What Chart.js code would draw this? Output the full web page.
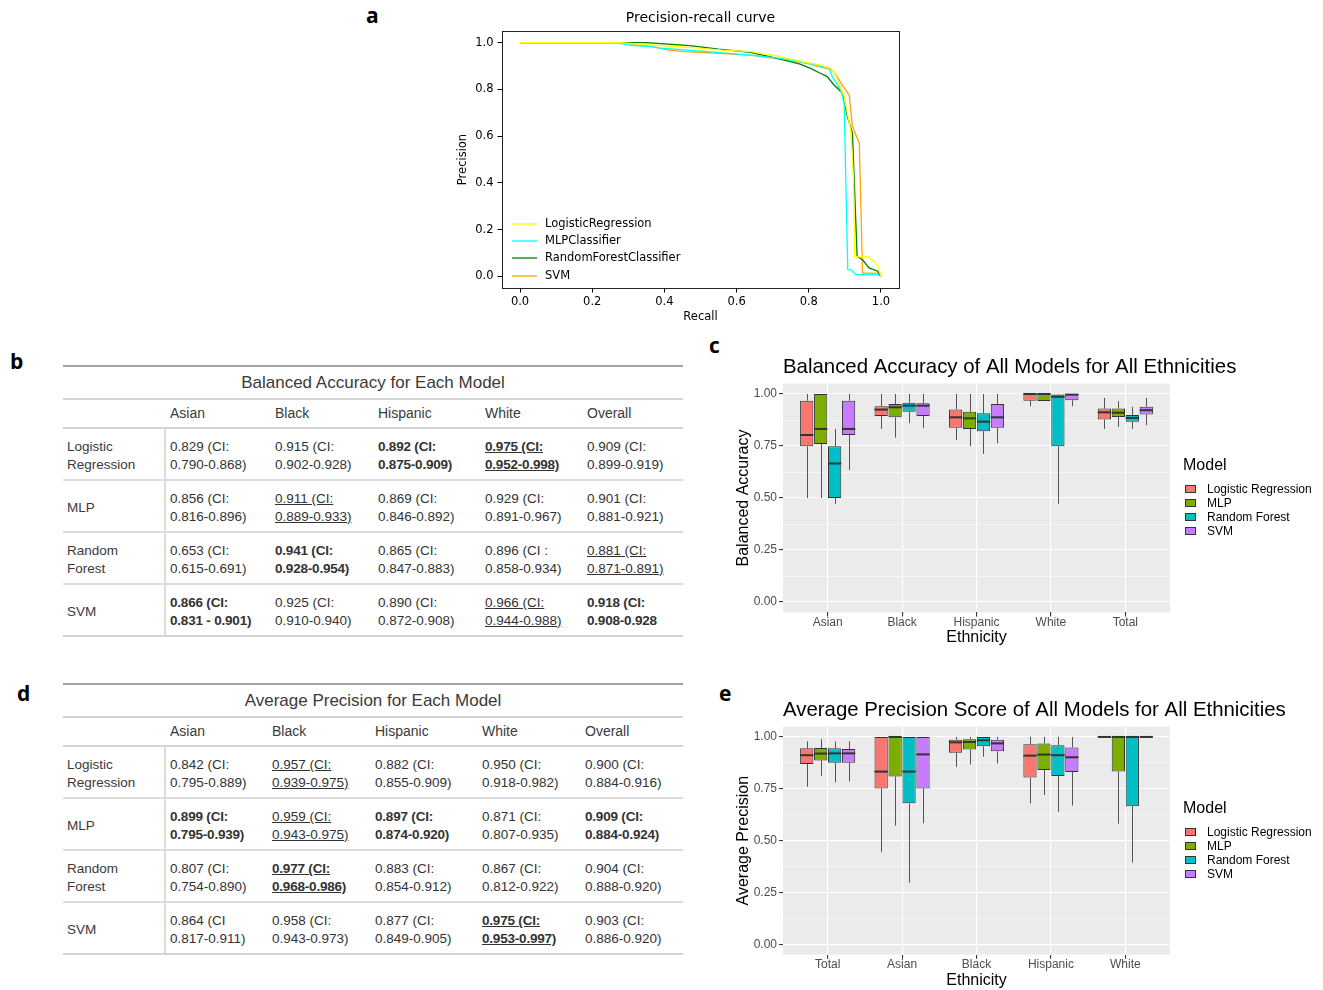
<!DOCTYPE html>
<html><head><meta charset="utf-8">
<script src="https://cdn.jsdelivr.net/npm/chart.js@4.4.1/dist/chart.umd.min.js"></script>
<style>
html,body{margin:0;padding:0;background:#fff;width:1323px;height:990px;overflow:hidden;position:relative;}
.letter{position:absolute;font-family:'Open Sans','Noto Sans',sans-serif;font-weight:700;font-size:21px;line-height:22px;color:#000;}
.wrap{position:absolute;}
.tb{position:absolute;font-family:'Liberation Sans',Arial,sans-serif;color:#333;}
.tb .hl{position:absolute;}
.tb .txt{position:absolute;white-space:nowrap;}
</style></head>
<body>
<div class="letter" style="left:366px;top:4px">a</div>
<div class="letter" style="left:10px;top:350px">b</div>
<div class="letter" style="left:709px;top:334px">c</div>
<div class="letter" style="left:17px;top:682px">d</div>
<div class="letter" style="left:719px;top:682px">e</div>

<div class="wrap" style="left:440px;top:0px;width:470px;height:330px"><canvas id="prChart"></canvas></div>
<div class="wrap" style="left:700px;top:340px;width:623px;height:315px"><canvas id="baChart"></canvas></div>
<div class="wrap" style="left:700px;top:685px;width:623px;height:305px"><canvas id="apChart"></canvas></div>
<div id="tableB"></div>
<div id="tableD"></div>

<script>
// ---------- Panel a: precision-recall curves ----------
const prModels = ['LogisticRegression', 'MLPClassifier', 'RandomForestClassifier', 'SVM'];
const prRecallLR = [0, 0.28, 0.36, 0.45, 0.5, 0.56, 0.64, 0.68, 0.71, 0.78, 0.83, 0.86, 0.87, 0.88, 0.898, 0.916, 0.924, 0.927, 0.94, 0.965, 0.981, 0.993, 1.0];
const prPrecLR   = [1.0, 1.0, 0.99, 0.982, 0.976, 0.968, 0.962, 0.95, 0.945, 0.919, 0.905, 0.89, 0.875, 0.84, 0.769, 0.627, 0.42, 0.085, 0.083, 0.083, 0.064, 0.04, 0.0];
const prRecallMLP = [0, 0.27, 0.3, 0.36, 0.4, 0.5, 0.638, 0.721, 0.805, 0.856, 0.865, 0.888, 0.898, 0.908, 0.918, 0.93, 0.99, 1.0];
const prPrecMLP   = [1.0, 1.0, 0.99, 0.983, 0.975, 0.964, 0.947, 0.933, 0.909, 0.89, 0.855, 0.798, 0.741, 0.029, 0.027, 0.007, 0.007, 0.0];
const prRecallRF = [0, 0.35, 0.4, 0.471, 0.55, 0.638, 0.721, 0.776, 0.805, 0.832, 0.851, 0.87, 0.893, 0.907, 0.921, 0.934, 0.949, 0.967, 0.991, 1.0];
const prPrecRF   = [1.0, 1.0, 0.995, 0.987, 0.972, 0.959, 0.93, 0.908, 0.89, 0.869, 0.855, 0.819, 0.784, 0.684, 0.613, 0.085, 0.071, 0.036, 0.022, 0.0];
const prRecallSVM = [0, 0.3, 0.314, 0.36, 0.407, 0.45, 0.499, 0.6, 0.638, 0.721, 0.8, 0.823, 0.86, 0.87, 0.888, 0.912, 0.921, 0.94, 0.949, 0.993, 1.0];
const prPrecSVM   = [1.0, 1.0, 0.99, 0.985, 0.969, 0.962, 0.959, 0.95, 0.947, 0.93, 0.91, 0.9, 0.886, 0.876, 0.83, 0.776, 0.641, 0.57, 0.014, 0.014, 0.0];
const prTicks = [0, 0.2, 0.4, 0.6, 0.8, 1.0];
const prColors = ['#ffff00', '#00ffff', '#008000', '#ffa500'];

// ---------- Panel c: balanced accuracy boxplots (low, q1, median, q3, high) ----------
const baEthnicities = ['Asian', 'Black', 'Hispanic', 'White', 'Total'];
const baLogistic = [[0.50,0.749,0.803,0.968,1.0],[0.832,0.894,0.925,0.941,1.0],[0.779,0.838,0.888,0.926,1.0],[0.941,0.968,1.0,1.0,1.0],[0.832,0.878,0.912,0.93,0.981]];
const baMLP      = [[0.50,0.76,0.832,1.0,1.0],[0.79,0.888,0.936,0.952,1.0],[0.749,0.832,0.883,0.915,1.0],[0.966,0.966,1.0,1.0,1.0],[0.842,0.89,0.91,0.93,0.965]];
const baForest   = [[0.472,0.50,0.666,0.749,0.832],[0.861,0.915,0.944,0.958,1.0],[0.712,0.821,0.867,0.907,1.0],[0.472,0.749,0.987,0.997,1.0],[0.832,0.866,0.885,0.899,0.938]];
const baSVM      = [[0.635,0.803,0.832,0.968,1.0],[0.837,0.894,0.944,0.955,1.0],[0.763,0.838,0.888,0.952,1.0],[0.941,0.97,0.997,1.0,1.0],[0.85,0.902,0.922,0.939,0.981]];

// ---------- Panel e: average precision boxplots ----------
const apEthnicities = ['Total', 'Asian', 'Black', 'Hispanic', 'White'];
const apLogistic = [[0.76,0.870,0.912,0.945,0.979],[0.444,0.752,0.833,1.0,1.0],[0.855,0.924,0.974,0.987,1.0],[0.68,0.804,0.91,0.965,1.0],[1.0,1.0,1.0,1.0,1.0]];
const apMLP      = [[0.813,0.887,0.92,0.947,0.99],[0.572,0.809,1.0,1.0,1.0],[0.867,0.939,0.976,0.989,1.0],[0.72,0.841,0.915,0.969,1.0],[0.582,0.833,1.0,1.0,1.0]];
const apForest   = [[0.781,0.876,0.921,0.945,0.979],[0.297,0.68,0.833,1.0,1.0],[0.905,0.955,0.984,1.0,1.0],[0.64,0.812,0.912,0.96,1.0],[0.394,0.666,1.0,1.0,1.0]];
const apSVM      = [[0.786,0.876,0.921,0.942,0.979],[0.584,0.752,0.916,1.0,1.0],[0.873,0.931,0.969,0.987,1.0],[0.669,0.831,0.902,0.949,1.0],[1.0,1.0,1.0,1.0,1.0]];

const boxModels = ['Logistic Regression', 'MLP', 'Random Forest', 'SVM'];
const boxColors = ['#F8766D', '#7CAE00', '#00BFC4', '#C77CFF'];
const boxYTicks = [0, 0.25, 0.5, 0.75, 1.0];

// ---------- Tables ----------
const tableColumns = ['Asian', 'Black', 'Hispanic', 'White', 'Overall'];
const tableRowLabels = [['Logistic', 'Regression'], ['MLP'], ['Random', 'Forest'], ['SVM']];
const baCells = [
  [['0.829 (CI:','0.790-0.868)'],['0.915 (CI:','0.902-0.928)'],['0.892 (CI:','0.875-0.909)'],['0.975 (CI:','0.952-0.998)'],['0.909 (CI:','0.899-0.919)']],
  [['0.856 (CI:','0.816-0.896)'],['0.911 (CI:','0.889-0.933)'],['0.869 (CI:','0.846-0.892)'],['0.929 (CI:','0.891-0.967)'],['0.901 (CI:','0.881-0.921)']],
  [['0.653 (CI:','0.615-0.691)'],['0.941 (CI:','0.928-0.954)'],['0.865 (CI:','0.847-0.883)'],['0.896 (CI :','0.858-0.934)'],['0.881 (CI:','0.871-0.891)']],
  [['0.866 (CI:','0.831 - 0.901)'],['0.925 (CI:','0.910-0.940)'],['0.890 (CI:','0.872-0.908)'],['0.966 (CI:','0.944-0.988)'],['0.918 (CI:','0.908-0.928']]
];
const baMarks = [['','','b','bu',''],['','u','','',''],['','b','','','u'],['b','','','u','b']];
const apCells = [
  [['0.842 (CI:','0.795-0.889)'],['0.957 (CI:','0.939-0.975)'],['0.882 (CI:','0.855-0.909)'],['0.950 (CI:','0.918-0.982)'],['0.900 (CI:','0.884-0.916)']],
  [['0.899 (CI:','0.795-0.939)'],['0.959 (CI:','0.943-0.975)'],['0.897 (CI:','0.874-0.920)'],['0.871 (CI:','0.807-0.935)'],['0.909 (CI:','0.884-0.924)']],
  [['0.807 (CI:','0.754-0.890)'],['0.977 (CI:','0.968-0.986)'],['0.883 (CI:','0.854-0.912)'],['0.867 (CI:','0.812-0.922)'],['0.904 (CI:','0.888-0.920)']],
  [['0.864 (CI','0.817-0.911)'],['0.958 (CI:','0.943-0.973)'],['0.877 (CI:','0.849-0.905)'],['0.975 (CI:','0.953-0.997)'],['0.903 (CI:','0.886-0.920)']]
];
const apMarks = [['','u','','',''],['b','u','b','','b'],['','bu','','',''],['','','','bu','']];

// ================= Panel a chart =================
const prRecalls = [prRecallLR, prRecallMLP, prRecallRF, prRecallSVM];
const prPrecs = [prPrecLR, prPrecMLP, prPrecRF, prPrecSVM];
const dvFont = (size) => ({family: "'DejaVu Sans', sans-serif", size: size, weight: 'normal'});

const prFrame = {
  id: 'prFrame',
  afterDraw(chart) {
    const {ctx, chartArea: a} = chart;
    ctx.save();
    ctx.strokeStyle = '#222'; ctx.lineWidth = 1;
    ctx.strokeRect(Math.round(a.left) + 0.5, Math.round(a.top) + 0.5, Math.round(a.right - a.left), Math.round(a.bottom - a.top));
    // legend inside the axes
    const rows = [224, 241, 258, 276];
    ctx.font = "11.5px 'DejaVu Sans', sans-serif";
    ctx.textBaseline = 'middle';
    ctx.fillStyle = '#000';
    chart.data.datasets.forEach((ds, i) => {
      ctx.strokeStyle = ds.borderColor; ctx.lineWidth = 1.3;
      ctx.beginPath(); ctx.moveTo(a.left + 10, rows[i]); ctx.lineTo(a.left + 35, rows[i]); ctx.stroke();
      ctx.fillText(ds.label, a.left + 43, rows[i] + 0.5);
    });
    ctx.restore();
  }
};

new Chart(document.getElementById('prChart'), {
  type: 'line',
  data: {
    datasets: prModels.map((name, k) => ({
      label: name,
      data: prRecalls[k].map((r, i) => ({x: r, y: prPrecs[k][i]})),
      borderColor: prColors[k], backgroundColor: prColors[k],
      borderWidth: 1.3, pointRadius: 0, fill: false, tension: 0
    }))
  },
  options: {
    responsive: true, maintainAspectRatio: false, animation: false,
    layout: {padding: {left: 0, right: 11, top: 0, bottom: 0}},
    plugins: {
      legend: {display: false}, tooltip: {enabled: false},
      title: {display: true, fullSize: false, text: 'Precision-recall curve', font: dvFont(14), color: '#000', padding: {top: 10, bottom: 4.2}}
    },
    scales: {
      x: {
        type: 'linear', min: -0.05, max: 1.05,
        afterBuildTicks: s => { s.ticks = prTicks.map(v => ({value: v})); },
        afterFit: s => { s.height = 42; },
        ticks: {callback: v => Number(v).toFixed(1), font: dvFont(11.5), color: '#000', padding: 3, maxRotation: 0, autoSkip: false},
        grid: {drawOnChartArea: false, drawTicks: true, tickLength: 4.5, tickColor: '#000'},
        border: {display: false},
        title: {display: true, text: 'Recall', font: dvFont(11.5), color: '#000', padding: {top: 0, bottom: 5.6}}
      },
      y: {
        type: 'linear', min: -0.05, max: 1.05,
        afterBuildTicks: s => { s.ticks = prTicks.map(v => ({value: v})); },
        afterFit: s => { s.width = 62; },
        ticks: {callback: v => Number(v).toFixed(1), font: dvFont(11.5), color: '#000', padding: 4, autoSkip: false},
        grid: {drawOnChartArea: false, drawTicks: true, tickLength: 4.5, tickColor: '#000'},
        border: {display: false},
        title: {display: true, text: 'Precision', font: dvFont(11.5), color: '#000', padding: {top: 16, bottom: 0}}
      }
    }
  },
  plugins: [prFrame]
});

// ================= Boxplot charts (c, e) =================
const lsFont = (size) => ({family: "'Liberation Sans', Arial, sans-serif", size: size, weight: 'normal'});
const isMajor = v => boxYTicks.some(t => Math.abs(t - v) < 1e-6);

function boxPlugin(geo, title) {
  return {
    id: 'boxExtras',
    beforeDraw(chart) {
      const {ctx, chartArea: a} = chart;
      ctx.save(); ctx.fillStyle = '#EBEBEB';
      ctx.fillRect(a.left, a.top, a.right - a.left, a.bottom - a.top);
      ctx.restore();
    },
    beforeDatasetsDraw(chart) {
      const {ctx} = chart; const ys = chart.scales.y;
      ctx.save(); ctx.strokeStyle = '#555'; ctx.lineWidth = 1;
      chart.data.datasets.forEach((ds, k) => {
        chart.getDatasetMeta(k).data.forEach((el, j) => {
          const s = ds.stats[j];
          const x = Math.round(el.x) + 0.5;
          ctx.beginPath();
          ctx.moveTo(x, ys.getPixelForValue(s[0])); ctx.lineTo(x, ys.getPixelForValue(s[1]));
          ctx.moveTo(x, ys.getPixelForValue(s[3])); ctx.lineTo(x, ys.getPixelForValue(s[4]));
          ctx.stroke();
        });
      });
      ctx.restore();
    },
    afterDatasetsDraw(chart) {
      const {ctx} = chart; const ys = chart.scales.y;
      ctx.save(); ctx.strokeStyle = '#333'; ctx.lineWidth = 2;
      chart.data.datasets.forEach((ds, k) => {
        chart.getDatasetMeta(k).data.forEach((el, j) => {
          const y = ys.getPixelForValue(ds.stats[j][2]);
          ctx.beginPath(); ctx.moveTo(el.x - el.width / 2, y); ctx.lineTo(el.x + el.width / 2, y); ctx.stroke();
        });
      });
      ctx.restore();
    },
    afterDraw(chart) {
      const {ctx, chartArea: a} = chart;
      ctx.save();
      // plot title, left-aligned with the panel
      ctx.textBaseline = 'middle'; ctx.fillStyle = '#000';
      ctx.font = "20.4px 'Liberation Sans', Arial, sans-serif";
      ctx.fillText(title, a.left, geo.titleY);
      // legend
      const lx = a.right + 13, legendTop = geo.legendTop;
      ctx.font = "16px 'Liberation Sans', Arial, sans-serif";
      ctx.fillText('Model', lx, legendTop);
      ctx.font = "12px 'Liberation Sans', Arial, sans-serif";
      chart.data.datasets.forEach((ds, i) => {
        const cy = legendTop + 23 + i * 14;
        ctx.fillStyle = ds.backgroundColor;
        ctx.fillRect(lx + 2, cy - 4, 11, 8);
        ctx.strokeStyle = '#333'; ctx.lineWidth = 1;
        ctx.strokeRect(lx + 2.5, cy - 3.5, 10, 7);
        ctx.fillStyle = '#000';
        ctx.fillText(ds.label, lx + 24, cy + 0.5);
      });
      ctx.restore();
    }
  };
}

function boxChart(id, title, yTitle, cats, series, geo) {
  return new Chart(document.getElementById(id), {
    type: 'bar',
    data: {
      datasets: boxModels.map((m, k) => ({
        label: m,
        stats: series[k],
        data: series[k].map((s, i) => ({x: i, y: [s[1], s[3]]})),
        backgroundColor: boxColors[k], borderColor: '#333', borderWidth: 1, borderSkipped: false,
        categoryPercentage: 0.75, barPercentage: 0.95
      }))
    },
    options: {
      responsive: true, maintainAspectRatio: false, animation: false,
      layout: {padding: {left: 0, right: 153, top: geo.areaTop, bottom: 0}},
      plugins: {legend: {display: false}, tooltip: {enabled: false}, title: {display: false}},
      scales: {
        x: {
          type: 'linear', min: -0.6, max: 4.6, offset: false,
          afterBuildTicks: s => { s.ticks = cats.map((c, i) => ({value: i})); },
          afterFit: s => { s.height = geo.xHeight; },
          ticks: {callback: v => cats[Math.round(v)], font: lsFont(12), color: '#4D4D4D', padding: -1, maxRotation: 0, autoSkip: false},
          grid: {offset: false, color: '#fff', lineWidth: 1.1, drawTicks: true, tickLength: 4, tickColor: '#333'},
          border: {display: false},
          title: {display: true, text: 'Ethnicity', font: lsFont(16), color: '#000', padding: {top: 0, bottom: geo.xTitleBottom}}
        },
        y: {
          type: 'linear', min: -0.05, max: 1.05,
          afterBuildTicks: s => {
            const t = [];
            boxYTicks.forEach((v, i) => { t.push({value: v}); if (i < boxYTicks.length - 1) t.push({value: (v + boxYTicks[i + 1]) / 2}); });
            s.ticks = t;
          },
          afterFit: s => { s.width = 83; },
          ticks: {callback: v => isMajor(v) ? Number(v).toFixed(2) : '', font: lsFont(12), color: '#4D4D4D', padding: 2, autoSkip: false},
          grid: {color: '#fff', lineWidth: c => isMajor(c.tick ? c.tick.value : 0) ? 1.1 : 0.55, drawTicks: true, tickLength: 4,
                 tickColor: c => isMajor(c.tick ? c.tick.value : 0) ? '#333' : 'rgba(0,0,0,0)'},
          border: {display: false},
          title: {display: true, text: yTitle, font: lsFont(16), color: '#000', padding: {top: 34.4, bottom: 0}}
        }
      }
    },
    plugins: [boxPlugin(geo, title)]
  });
}

boxChart('baChart', 'Balanced Accuracy of All Models for All Ethnicities', 'Balanced Accuracy', baEthnicities,
  [baLogistic, baMLP, baForest, baSVM], {areaTop: 43.6, titleY: 27.5, xHeight: 42.6, xTitleBottom: 7.4, legendTop: 126});
boxChart('apChart', 'Average Precision Score of All Models for All Ethnicities', 'Average Precision', apEthnicities,
  [apLogistic, apMLP, apForest, apSVM], {areaTop: 41.6, titleY: 25.5, xHeight: 35.3, xTitleBottom: -0.6, legendTop: 124});

// ================= Tables (b, d) =================
function buildTable(elId, top, title, colX, cells, marks) {
  const root = document.getElementById(elId);
  const L = 63, R = 683;
  let html = '';
  const hline = (y, h, c) => `<div class="hl" style="left:${L}px;top:${y}px;width:${R - L}px;height:${h}px;background:${c}"></div>`;
  html += hline(top - 1, 2, '#a3a3a3');
  html += `<div class="txt" style="left:${L}px;width:${R - L}px;top:${top + 7}px;text-align:center;font-size:17px;line-height:20px;color:#3a3a3a">${title}</div>`;
  html += hline(top + 32, 2, '#d4d4d4');
  tableColumns.forEach((c, i) => {
    html += `<div class="txt" style="left:${colX[i]}px;top:${top + 38}px;font-size:14px;line-height:18px;color:#3a3a3a">${c}</div>`;
  });
  html += hline(top + 61, 2, '#d4d4d4');
  const rowTop = top + 62, rowH = 52;
  for (let r = 0; r < 4; r++) {
    const y0 = rowTop + r * rowH;
    const lab = tableRowLabels[r];
    const labTop = y0 + 28 - lab.length * 9;
    html += `<div class="txt" style="left:67px;top:${labTop}px;font-size:13.5px;line-height:18px;color:#3a3a3a">${lab.join('<br>')}</div>`;
    for (let c = 0; c < 5; c++) {
      const m = marks[r][c];
      const st = (m.includes('b') ? 'font-weight:700;letter-spacing:-0.2px;' : '') + (m.includes('u') ? 'text-decoration:underline;' : '');
      html += `<div class="txt" style="left:${colX[c]}px;top:${y0 + 10}px;font-size:13.5px;line-height:18px;color:#333;${st}">${cells[r][c].join('<br>')}</div>`;
    }
    if (r < 3) html += hline(y0 + rowH - 1, 2, '#dcdcdc');
  }
  html += hline(rowTop + 4 * rowH - 1, 2, '#d4d4d4');
  html += `<div class="hl" style="left:164px;top:${top + 62}px;width:2px;height:${4 * rowH - 1}px;background:#dcdcdc"></div>`;
  root.innerHTML = `<div class="tb">${html}</div>`;
}
buildTable('tableB', 366, 'Balanced Accuracy for Each Model', [170, 275, 378, 485, 587], baCells, baMarks);
buildTable('tableD', 684, 'Average Precision for Each Model', [170, 272, 375, 482, 585], apCells, apMarks);
</script>
</body></html>
